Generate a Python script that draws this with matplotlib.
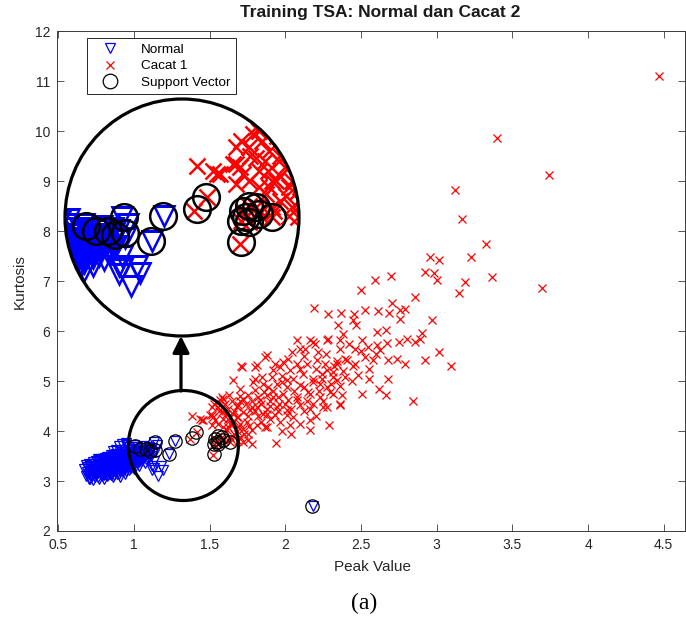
import numpy as np
import matplotlib
matplotlib.use('Agg')
import matplotlib.pyplot as plt
from matplotlib.patches import Ellipse, FancyArrowPatch
from matplotlib.lines import Line2D

plt.rcParams['font.family'] = ['Liberation Sans', 'DejaVu Sans']

# ---------------- data ----------------
normal_points = [
    (0.67, 3.25), (0.68, 3.32), (0.69, 3.18), (0.70, 3.05), (0.70, 3.28), (0.71, 3.12), (0.72, 3.22),
    (0.72, 3.35), (0.73, 3.02), (0.74, 3.15), (0.74, 3.28), (0.75, 3.40), (0.76, 3.08), (0.76, 3.22),
    (0.77, 3.33), (0.78, 3.12), (0.78, 3.45), (0.79, 3.26), (0.80, 3.05), (0.80, 3.18), (0.80, 3.38),
    (0.81, 3.30), (0.82, 3.10), (0.82, 3.48), (0.83, 3.22), (0.83, 3.40), (0.84, 3.15), (0.84, 3.33),
    (0.85, 3.27), (0.85, 3.52), (0.86, 3.08), (0.86, 3.42), (0.87, 3.20), (0.87, 3.35), (0.88, 3.30),
    (0.88, 3.55), (0.89, 3.14), (0.89, 3.45), (0.90, 3.25), (0.90, 3.38), (0.91, 3.09), (0.91, 3.50),
    (0.92, 3.20), (0.92, 3.75), (0.93, 3.32), (0.93, 3.44), (0.94, 3.58), (0.94, 3.15), (0.95, 3.28),
    (0.95, 3.77), (0.96, 3.40), (0.96, 3.52), (0.97, 3.22), (0.97, 3.62), (0.98, 3.35), (0.98, 3.46),
    (0.99, 3.30), (0.99, 3.56), (1.00, 3.25), (1.00, 3.42), (1.00, 3.68), (1.01, 3.50), (1.02, 3.36),
    (1.02, 3.60), (1.03, 3.30), (1.03, 3.45), (1.04, 3.55), (1.05, 3.40), (1.05, 3.66), (1.06, 3.48),
    (1.07, 3.58), (1.07, 3.36), (1.08, 3.52), (1.09, 3.62), (1.09, 3.44), (1.10, 3.56), (1.11, 3.50),
    (1.12, 3.66), (1.13, 3.40), (1.14, 3.58), (1.15, 3.72), (1.12, 3.30), (1.18, 3.30), (1.13, 3.27),
    (1.12, 3.22), (1.16, 3.10), (1.19, 3.23), (1.23, 3.55), (1.27, 3.80), (1.13, 3.79), (1.00, 3.72),
    (1.06, 3.70), (1.10, 3.68), (0.71, 3.20), (0.73, 3.30), (0.75, 3.18), (0.77, 3.25), (0.79, 3.35),
    (0.81, 3.22), (0.83, 3.28), (0.85, 3.38), (0.87, 3.45), (0.89, 3.36), (0.91, 3.42), (0.93, 3.50),
    (0.95, 3.46), (0.97, 3.55), (0.99, 3.48), (1.01, 3.58), (1.03, 3.62), (1.05, 3.52), (0.92, 3.28),
    (0.88, 3.22), (0.84, 3.24), (0.80, 3.28), (0.76, 3.30), (2.18, 2.50),
    (0.68, 3.10), (0.69, 3.28), (0.70, 3.15), (0.70, 3.35), (0.71, 3.05), (0.71, 3.30), (0.72, 3.10),
    (0.72, 3.28), (0.73, 3.18), (0.73, 3.38), (0.74, 3.08), (0.74, 3.22), (0.75, 3.12), (0.75, 3.30),
    (0.76, 3.16), (0.76, 3.38), (0.77, 3.05), (0.77, 3.19), (0.77, 3.42), (0.78, 3.22), (0.78, 3.32),
    (0.79, 3.10), (0.79, 3.18), (0.79, 3.44), (0.80, 3.12), (0.80, 3.24), (0.81, 3.15), (0.81, 3.36),
    (0.81, 3.46), (0.82, 3.20), (0.82, 3.30), (0.83, 3.12), (0.83, 3.35), (0.84, 3.20), (0.84, 3.42),
    (0.85, 3.13), (0.85, 3.22), (0.85, 3.32), (0.86, 3.18), (0.86, 3.28), (0.86, 3.50), (0.87, 3.12),
    (0.87, 3.26), (0.87, 3.40), (0.88, 3.18), (0.88, 3.38), (0.88, 3.48), (0.89, 3.22), (0.89, 3.28),
    (0.89, 3.52), (0.90, 3.15), (0.90, 3.32), (0.90, 3.45), (0.91, 3.20), (0.91, 3.30), (0.91, 3.58),
    (0.92, 3.36), (0.92, 3.46), (0.92, 3.55), (0.93, 3.22), (0.93, 3.28), (0.93, 3.40), (0.94, 3.25),
    (0.94, 3.35), (0.94, 3.48), (0.95, 3.20), (0.95, 3.38), (0.95, 3.55), (0.96, 3.30), (0.96, 3.45),
    (0.96, 3.62), (0.97, 3.32), (0.97, 3.42), (0.97, 3.50), (0.98, 3.26), (0.98, 3.40), (0.98, 3.58),
    (0.99, 3.38), (0.99, 3.44), (0.99, 3.65), (1.00, 3.33), (1.00, 3.50), (1.00, 3.58), (1.01, 3.40),
    (1.01, 3.46), (1.02, 3.44), (1.02, 3.52), (1.03, 3.38), (1.03, 3.55), (1.04, 3.45), (1.04, 3.62),
    (1.05, 3.46), (1.06, 3.55), (1.06, 3.60), (1.07, 3.50), (1.08, 3.45), (1.08, 3.60), (1.10, 3.48),
    (1.11, 3.60), (0.95, 3.72), (0.90, 3.70), (0.97, 3.68), (1.02, 3.68), (0.86, 3.60), (0.88, 3.62),
    (0.93, 3.62), (0.84, 3.48), (0.80, 3.44), (0.76, 3.45),
]

cacat1_points = [
    (4.47, 11.11), (3.40, 9.87), (3.74, 9.13), (3.12, 8.82), (3.165, 8.25), (3.323, 7.74), (2.955, 7.49),
    (3.013, 7.43), (3.226, 7.49), (2.922, 7.19), (2.984, 7.17), (3.004, 7.02), (3.367, 7.08), (3.19, 6.99),
    (3.699, 6.87), (3.145, 6.77), (2.592, 7.03), (2.696, 7.11), (2.498, 6.82), (2.856, 6.69), (2.192, 6.47),
    (2.284, 6.35), (2.366, 6.37), (2.454, 6.35), (2.524, 6.42), (2.614, 6.40), (2.683, 6.37), (2.702, 6.57),
    (2.757, 6.43), (2.790, 6.45), (2.757, 6.25), (2.966, 6.22), (2.449, 6.22), (2.467, 6.12), (2.35, 6.13),
    (2.383, 5.94), (2.604, 5.99), (2.665, 6.02), (2.901, 5.97), (2.889, 5.85), (2.856, 5.79), (2.802, 5.85),
    (2.753, 5.79), (2.674, 5.77), (2.604, 5.72), (2.548, 5.69), (2.505, 5.82), (2.460, 5.65), (2.361, 5.65),
    (2.273, 5.82), (2.185, 5.79), (3.013, 5.59), (3.096, 5.31), (2.922, 5.42), (2.790, 5.35), (2.736, 5.45),
    (2.681, 5.42), (2.625, 5.62), (2.581, 5.42), (2.526, 5.49), (2.460, 5.35), (2.394, 5.45), (2.339, 5.35),
    (2.273, 5.22), (2.207, 5.42), (2.141, 5.35), (2.482, 5.12), (2.676, 5.05), (2.317, 5.09), (2.229, 4.95),
    (2.163, 4.75), (2.295, 4.79), (2.373, 4.72), (2.505, 4.75), (2.665, 4.72), (2.845, 4.61), (2.251, 4.49),
    (2.361, 4.52), (1.939, 3.77), (2.289, 4.12), (1.708, 5.30), (1.657, 5.02),
    (2.361, 5.82), (2.075, 5.82), (2.163, 5.82), (2.196, 5.75), (2.284, 5.85), (2.042, 5.59), (2.097, 5.65),
    (2.218, 5.59), (2.405, 5.42), (1.866, 5.49), (1.987, 5.39), (1.713, 5.29), (1.701, 4.85), (1.800, 5.29),
    (1.921, 5.22), (1.845, 5.09), (2.031, 5.22), (2.119, 5.15), (2.240, 5.15), (2.317, 5.19), (2.394, 5.09),
    (2.339, 5.02), (2.273, 4.89), (2.185, 4.99), (2.097, 4.92), (2.009, 5.02), (1.943, 4.95), (1.888, 4.89),
    (1.800, 4.82), (1.756, 4.72), (1.833, 4.62), (1.921, 4.69), (1.987, 4.75), (2.075, 4.69), (2.152, 4.79),
    (2.229, 4.69), (2.317, 4.75), (2.361, 4.55), (2.273, 4.49), (2.185, 4.55), (2.097, 4.52), (2.009, 4.42),
    (1.932, 4.32), (1.855, 4.35), (1.767, 4.42), (1.690, 4.52), (1.679, 4.29), (1.745, 4.19), (2.163, 4.22),
    (2.163, 4.02), (2.031, 4.12), (1.965, 4.19), (1.878, 4.09), (1.811, 4.12),
    (2.13, 5.65), (1.811, 5.32), (1.789, 4.99), (1.591, 4.65), (1.558, 4.49), (1.382, 4.30), (1.459, 4.22),
    (1.525, 4.29), (1.514, 4.12), (1.591, 4.25), (1.657, 4.35), (1.624, 4.09), (1.690, 4.09), (1.778, 4.02),
    (1.701, 3.89), (1.756, 3.82), (1.635, 3.89), (1.866, 4.09), (1.878, 4.35), (1.811, 4.49), (1.943, 4.49),
    (2.009, 4.32), (1.954, 4.69), (1.878, 4.72), (2.009, 4.89), (1.910, 5.09), (1.965, 5.29), (2.075, 5.35),
    (1.878, 5.52),
    (1.448, 4.22), (1.514, 4.49), (1.580, 4.69), (1.514, 4.32), (1.558, 4.15), (1.613, 4.02), (1.591, 3.85),
    (1.646, 4.15), (1.690, 4.29), (1.756, 3.95), (1.723, 3.79), (1.778, 3.75),
    (1.437, 4.25), (1.503, 4.32), (1.536, 4.22), (1.569, 4.62), (1.624, 4.45), (1.591, 4.09), (1.635, 4.15),
    (1.525, 3.52), (1.371, 3.85), (1.415, 3.99),
    (1.536, 3.85), (1.558, 3.90), (1.547, 3.79), (1.580, 3.89), (1.635, 3.79), (1.591, 3.82), (1.530, 3.75),
    (1.558, 3.74),
    (1.84, 4.55), (1.90, 4.60), (1.96, 4.55), (2.02, 4.62), (2.06, 4.80), (2.12, 4.88), (2.18, 5.05),
    (2.24, 5.05), (2.05, 5.05), (1.98, 4.98), (1.92, 4.80), (1.86, 4.78), (1.78, 4.60), (1.72, 4.65),
    (1.66, 4.40), (1.70, 4.15), (1.62, 4.25), (1.75, 4.30), (1.82, 4.30), (1.88, 4.45), (2.05, 4.28),
    (2.12, 4.40), (2.20, 4.30), (2.25, 4.60), (2.30, 4.95), (2.36, 4.90), (2.44, 5.00), (2.45, 5.30),
    (2.55, 5.25), (2.60, 5.55), (2.50, 5.60), (2.42, 5.75), (2.20, 5.25), (2.12, 5.50), (2.02, 5.45),
    (1.93, 5.35), (2.27, 5.55), (2.34, 5.40), (2.55, 5.05), (2.62, 4.85),
    (1.60, 4.55), (1.65, 4.60), (1.68, 4.48), (1.72, 4.38), (1.74, 4.55), (1.70, 4.70), (1.63, 4.72),
    (1.58, 4.38), (1.61, 4.35), (1.66, 4.20), (1.68, 4.00), (1.72, 4.05), (1.73, 3.95), (1.66, 3.95),
    (1.64, 3.85), (1.69, 3.80), (1.76, 4.10), (1.80, 4.40), (1.78, 4.48), (1.82, 4.68), (1.85, 4.95),
    (1.80, 5.05), (1.90, 4.50), (1.95, 4.40), (2.00, 4.55), (2.04, 4.45), (2.08, 4.62), (2.14, 4.60),
    (2.16, 4.45), (2.22, 4.80), (2.26, 5.35), (2.32, 5.30), (2.38, 5.20), (2.10, 5.25), (1.98, 5.10),
    (1.84, 4.18), (1.90, 4.25), (1.98, 4.00), (2.04, 3.95), (2.10, 4.15), (1.70, 4.60), (1.56, 4.40),
    (1.53, 4.55),
]

support_points = [
    (1.008, 3.70), (1.041, 3.65), (1.081, 3.65), (1.136, 3.79), (1.140, 3.63), (1.107, 3.61),
    (1.268, 3.80), (1.228, 3.55), (2.179, 2.50),
    (1.382, 3.87), (1.411, 3.99), (1.536, 3.85), (1.558, 3.90), (1.547, 3.79), (1.580, 3.89),
    (1.530, 3.54), (1.635, 3.79), (1.591, 3.82), (1.530, 3.75), (1.558, 3.74),
]

legend_labels = ['Normal', 'Cacat 1', 'Support Vector']
x_ticks = [0.5, 1, 1.5, 2, 2.5, 3, 3.5, 4, 4.5]
y_ticks = [2, 3, 4, 5, 6, 7, 8, 9, 10, 11, 12]

nx, ny = np.array(normal_points).T
cx, cy = np.array(cacat1_points).T
sx, sy = np.array(support_points).T

# ---------------- figure ----------------
W, H = 686, 619
fig = plt.figure(figsize=(W / 100, H / 100), dpi=100)
ax = fig.add_axes([57 / W, 1 - 531 / H, 628 / W, 500 / H])

AX_COL = '#3a3a3a'


def draw(a, k):
    a.plot(nx, ny, ls='none', marker='v', ms=7.0 * k, mfc='none', mec='blue', mew=0.9 * k)
    a.plot(cx, cy, ls='none', marker='x', ms=5.8 * k, mec='red', mew=0.9 * k)
    a.plot(sx, sy, ls='none', marker='o', ms=9.6 * k, mfc='none', mec='black', mew=0.9 * k)


draw(ax, 1.0)
ax.set_xlim(0.491, 4.641)
ax.set_ylim(2, 12)
ax.set_xticks(x_ticks)
ax.set_xticklabels([f'{t:g}' for t in x_ticks])
ax.set_yticks(y_ticks)
ax.tick_params(direction='in', top=True, right=True, length=5, width=0.6,
               color=AX_COL, labelcolor='#262626', labelsize=10, pad=5)
for s in ax.spines.values():
    s.set_color(AX_COL)
    s.set_linewidth(0.7)

# small magnifier circle in the main axes
ax.add_patch(Ellipse((1.326, 3.71), 0.727, 2.2, fill=False, ec='black', lw=2.3, zorder=5))

# legend
handles = [
    Line2D([], [], ls='none', marker='v', ms=7.0, mfc='none', mec='blue', mew=0.9),
    Line2D([], [], ls='none', marker='x', ms=5.8, mec='red', mew=0.9),
    Line2D([], [], ls='none', marker='o', ms=10.5, mfc='none', mec='black', mew=0.9),
]
leg = ax.legend(handles, legend_labels, loc='upper left', bbox_to_anchor=(0.048, 0.986),
                borderaxespad=0, fontsize=9.7, fancybox=False, framealpha=1,
                edgecolor='#262626', handlelength=2.6, handletextpad=1.0,
                labelspacing=0.3, borderpad=0.4)
leg.get_frame().set_linewidth(0.7)

# titles / labels
fig.text(380 / W, 1 - 13 / H, 'Training TSA: Normal dan Cacat 2', ha='center', va='center',
         fontsize=12.5, fontweight='bold', color='#1a1a1a')
fig.text(373 / W, 1 - 567 / H, 'Peak Value', ha='center', va='center', fontsize=11, color='#262626')
fig.text(20 / W, 1 - 282 / H, 'Kurtosis', ha='center', va='center', rotation=90,
         fontsize=11, color='#262626')
fig.text(364 / W, 1 - 603 / H, '(a)', ha='center', va='center', fontsize=17,
         family=['Liberation Serif', 'DejaVu Serif'], color='black')

# ---------------- magnified inset ----------------
ax_in = fig.add_axes([65 / W, 1 - 336 / H, 234 / W, 237 / H], zorder=10)
ax_in.set_xlim(0.937, 1.725)
ax_in.set_ylim(2.60, 4.97)
ax_in.axis('off')
bg = Ellipse((0.5, 0.5), 1, 1, transform=ax_in.transAxes, fc='white', ec='none', zorder=0, clip_on=False)
ax_in.add_patch(bg)
draw(ax_in, 2.0)
clip = Ellipse((0.5, 0.5), 1, 1, transform=ax_in.transAxes)
for ln in ax_in.lines:
    ln.set_clip_path(clip)
ax_in.add_patch(Ellipse((0.5, 0.5), 1, 1, transform=ax_in.transAxes, fill=False,
                        ec='black', lw=2.3, zorder=20, clip_on=False))

# arrow from small circle to the magnified view
arr = FancyArrowPatch((181 / W, 1 - 391 / H), (181 / W, 1 - 336 / H), transform=fig.transFigure,
                      arrowstyle='-|>,head_length=1.0,head_width=0.5', mutation_scale=10,
                      lw=2.3, color='black', shrinkA=0, shrinkB=0, zorder=30)
fig.patches.append(arr)

fig.savefig('out.png', dpi=100)
